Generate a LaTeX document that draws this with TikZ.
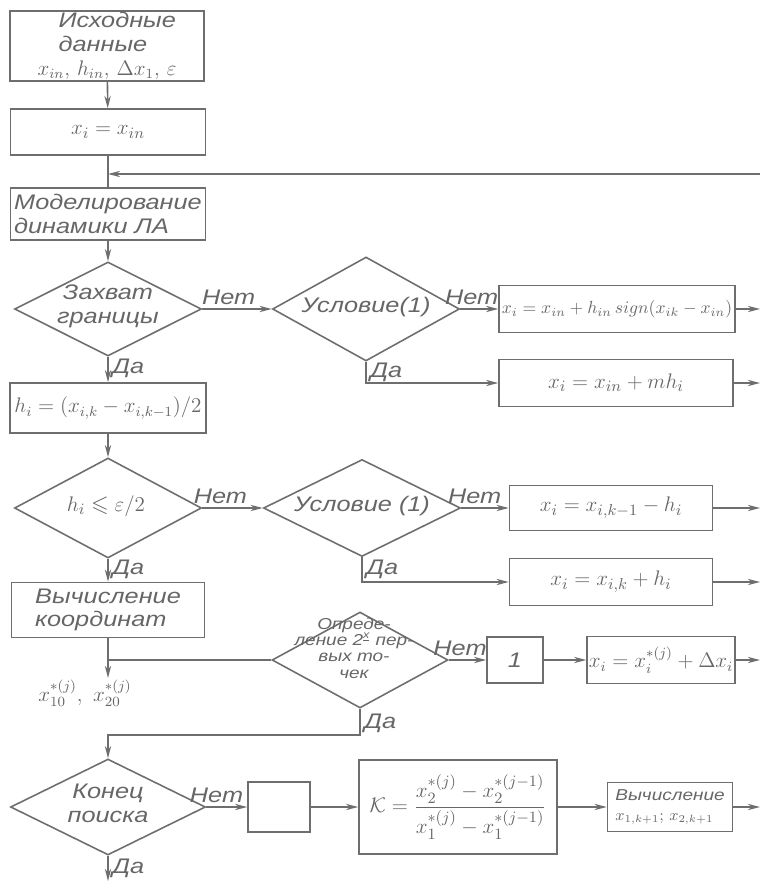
\documentclass[tikz,border=0pt]{standalone}
\usepackage{amsmath,amssymb}
\usepackage{fontspec}
\setmainfont{Liberation Sans}[FakeStretch=1.2]
\usetikzlibrary{shapes.geometric,arrows.meta,calc}
\definecolor{ink}{HTML}{6E6E6E}
\definecolor{txt}{HTML}{666666}
\newcommand\gost{\fontsize{12}{13.5}\selectfont\itshape}
\newcommand\gostsmall{\fontsize{9}{9.3}\selectfont\itshape}
\newcommand\gostv{\fontsize{9}{11}\selectfont\itshape}
\newcommand\gostm{\fontsize{13}{15}\selectfont\itshape}
\begin{document}
\begin{tikzpicture}[x=0.02cm,y=-0.02cm,
  sz/.style 2 args={minimum width=#1*0.02cm, minimum height=#2*0.02cm},
  ln/.style={draw=ink, line width=0.9pt},
  arr/.style={ln, -{Stealth[length=7pt,width=3.6pt]}},
  box/.style={draw=ink, line width=0.9pt, rectangle, inner sep=1pt, text=txt, font=\gost},
  mbox/.style={box, font=\gostm},
  dia/.style={draw=ink, line width=0.9pt, diamond, inner sep=0pt},
  dtext/.style={text=txt, font=\gost, align=center, inner sep=0pt},
  lbl/.style={text=txt, font=\gost, inner sep=2pt},
]
\useasboundingbox (0,0) rectangle (760,881);

% column 1
\node[box, sz={194}{68}, align=left] (in) at (107,46)
  {\hspace*{12pt}Исходные\\\hspace*{12pt}данные\\$x_{in},\,h_{in},\,\Delta x_1,\,\varepsilon$};
\node[mbox, sz={195}{46}] (x0) at (108,132) {$x_i = x_{in}$};
\node[box, sz={195}{52}, align=left] (mod) at (108,214) {Моделирование\\динамики ЛА};
\node[dia, sz={187}{94}] (d1) at (108,309) {};
\node[dtext] (d1t) at (108,306) {Захват\\границы};
\node[box, sz={196}{50}] (h) at (108,408) {$h_i = (x_{i,k} - x_{i,k-1})/2$};
\node[dia, sz={187}{100}] (d2) at (108,508) {};
\node[dtext, font=\gostm] (d2t) at (106,506) {$h_i \leqslant \varepsilon/2$};
\node[box, sz={193}{55}, align=left] (calc) at (108,610) {Вычисление\\координат};
\node[lbl] (out) at (85,693) {$x_{10}^{*(j)},\ x_{20}^{*(j)}$};
\node[dia, sz={195}{96}] (d5) at (108,807) {};
\node[dtext] (d5t) at (108,803) {Конец\\поиска};

% column 2
\node[dia, sz={187}{104}] (c1) at (366,309) {};
\node[dtext] (c1t) at (366,307) {Условие(1)};
\node[dia, sz={197}{97}] (c2) at (362,508) {};
\node[dtext] (c2t) at (362,506) {Условие (1)};
\node[dia, sz={176}{96}] (d4) at (360,660) {};
\node[dtext, font=\gostsmall] (d4t) at (354,648) {Опреде-\\ление 2\textsuperscript{\underline{х}} пер-\\вых то-\\чек};
\node[box, sz={62}{50}] (e) at (279,807) {};
\node[mbox, sz={198}{94}] (K) at (458,807)
  {$\mathcal{K} = \dfrac{x_2^{*(j)} - x_2^{*(j-1)}}{x_1^{*(j)} - x_1^{*(j-1)}}$};

% column 3
\node[box, sz={236}{47}, font=\fontsize{10}{12}\selectfont] (b1) at (617,309)
  {$x_i = x_{in} + h_{in}\,sign(x_{ik} - x_{in})$};
\node[mbox, sz={234}{47}] (b2) at (616,383) {$x_i = x_{in} + m h_i$};
\node[mbox, sz={203}{45}] (b3) at (611,508) {$x_i = x_{i,k-1} - h_i$};
\node[mbox, sz={203}{47}] (b4) at (611,582) {$x_i = x_{i,k} + h_i$};
\node[box, sz={56}{46}] (one) at (515,660) {1};
\node[box, sz={147}{47}] (b5) at (661,660) {$x_i = x_i^{*(j)} + \Delta x_i$};
\node[box, sz={125}{49}, align=left, font=\gostv] (v) at (670,807)
  {Вычисление\\$x_{1,k+1};\,x_{2,k+1}$};

% free ends
\coordinate (r0) at (760,174);
\coordinate (r1) at (760,309);
\coordinate (r2) at (760,383);
\coordinate (r3) at (760,508);
\coordinate (r4) at (760,582);
\coordinate (r5) at (760,660);
\coordinate (r6) at (760,807);
\coordinate (j1) at (108,660);
\coordinate (oa) at (108,678);
\coordinate (j2) at (360,735);
\coordinate (dn) at (108,881);

% connectors
\draw[arr] (in) -- (x0);
\draw[ln] (x0) -- (mod);
\draw[arr] (r0) -- (x0.south |- r0);
\draw[arr] (mod) -- (d1);
\draw[arr] (d1.east) -- node[lbl, above, pos=0.38] {Нет} (c1.west);
\draw[arr] (d1.south) -- node[lbl, right, pos=0.45] {Да} (h.north);
\draw[arr] (c1.east) -- node[lbl, above, pos=0.3] {Нет} (b1.west);
\draw[arr] (c1.south) |- node[lbl, right, pos=0.25] {Да} (b2.west);
\draw[arr] (b1.east) -- (r1);
\draw[arr] (b2.east) -- (r2);
\draw[arr] (h) -- (d2);
\draw[arr] (d2.east) -- node[lbl, above, pos=0.3] {Нет} (c2.west);
\draw[arr] (d2.south) -- node[lbl, right, pos=0.45] {Да} (calc.north);
\draw[arr] (c2.east) -- node[lbl, above, pos=0.28] {Нет} (b3.west);
\draw[arr] (c2.south) |- node[lbl, right, pos=0.25] {Да} (b4.west);
\draw[arr] (b3.east) -- (r3);
\draw[arr] (b4.east) -- (r4);
\draw[ln] (calc.south) -- (j1);
\draw[arr] (j1) -- (oa);
\draw[ln] (j1) -- (d4.west);
\draw[arr] (d4.east) -- node[lbl, above, pos=0.3] {Нет} (one.west);
\draw[arr] (one) -- (b5);
\draw[arr] (b5.east) -- (r5);
\draw[arr] (d4.south) -- node[lbl, right, pos=0.55] {Да} (j2) -| (d5.north);
\draw[arr] (d5.east) -- node[lbl, above, pos=0.25] {Нет} (e.west);
\draw[arr] (e) -- (K);
\draw[arr] (K) -- (v);
\draw[arr] (v.east) -- (r6);
\draw[arr] (d5.south) -- node[lbl, right, pos=0.5] {Да} (dn);
\end{tikzpicture}
\end{document}
